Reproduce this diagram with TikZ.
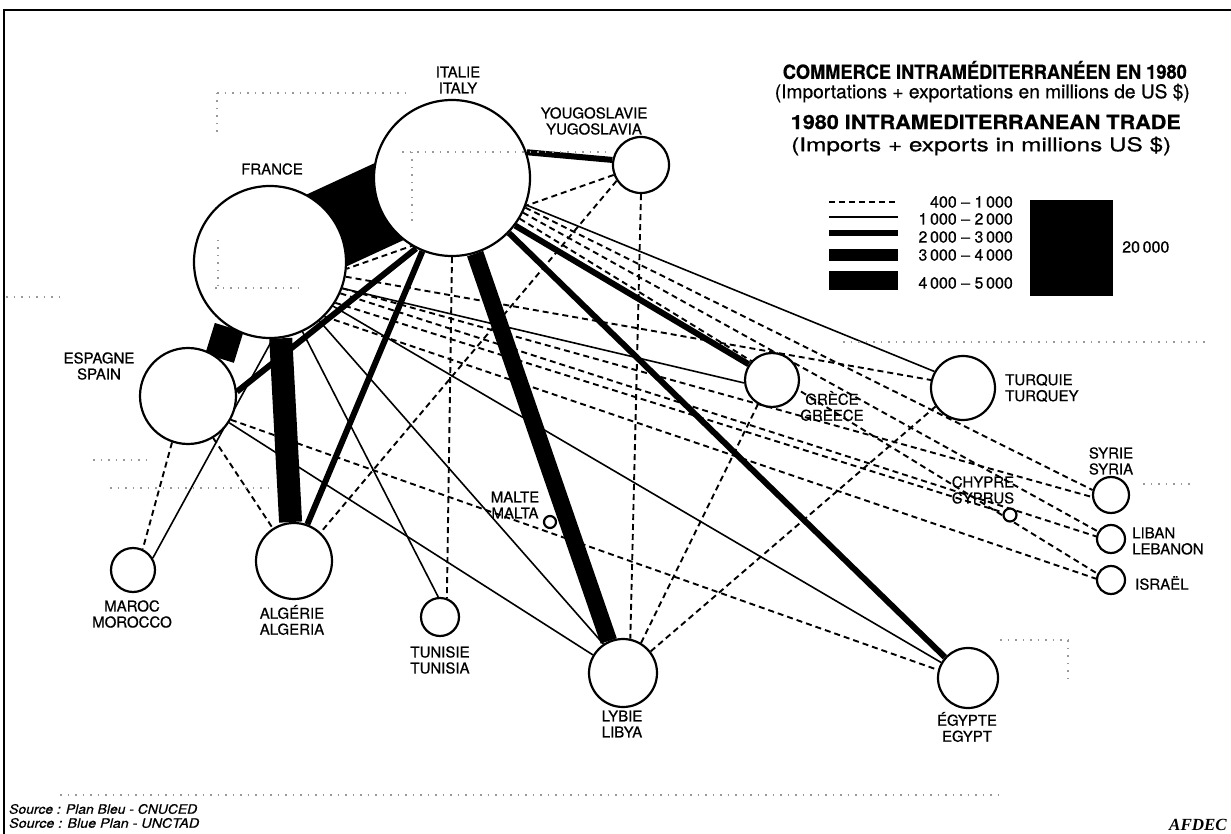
\documentclass[tikz,border=0pt]{standalone}
\usepackage{fontspec}
\setmainfont{TeX Gyre Heros}
\newfontfamily\lblfont[FakeBold=0.6]{TeX Gyre Heros}
\newfontfamily\afdecfont{Liberation Serif}
\pgfdeclarelayer{bg}
\pgfsetlayers{bg,main}
\begin{document}
\begin{tikzpicture}[x=1pt,y=-1pt,
  ctry/.style={circle,draw=black,line width=2.2pt,fill=white,inner sep=0pt,minimum size=#1},
  lbl/.style={font=\lblfont\fontsize{15}{16}\selectfont,align=center,inner sep=0pt},
  lbll/.style={font=\lblfont\fontsize{15}{16}\selectfont,align=left,inner sep=0pt,anchor=west},
  tdash/.style={line width=1.9pt,dash pattern=on 6pt off 4pt},
  tthin/.style={line width=1.6pt},
  tthick/.style={line width=6pt},
  tvthick/.style={line width=12pt},
  tband/.style={line width=#1},
  leg/.style={font=\lblfont\fontsize{16}{17}\selectfont,inner sep=0pt,anchor=east},
  ttl/.style={font=\lblfont\fontsize{19.5}{21}\selectfont\bfseries,inner sep=0pt},
  sub/.style={font=\lblfont\fontsize{19}{21}\selectfont,inner sep=0pt},
  src/.style={font=\lblfont\fontsize{13}{14}\selectfont\itshape,inner sep=0pt,anchor=west},
  noise/.style={black!40,line width=1.2pt,dash pattern=on 1.5pt off 6pt},
]
\useasboundingbox (0,0) rectangle (1231,834);
% frame
\draw[line width=2.5pt] (4,834) -- (4,10) -- (1231,10);

% countries
\node[ctry=152pt] (FR) at (270,262) {};
\node[ctry=156pt] (IT) at (452,178) {};
\node[ctry=56pt]  (YU) at (641,165) {};
\node[ctry=96pt]  (ES) at (188,396) {};
\node[ctry=44pt]  (MA) at (133,570) {};
\node[ctry=76pt]  (DZ) at (294,561) {};
\node[ctry=38pt]  (TN) at (440,617) {};
\node[ctry=12pt]  (MT) at (550,522) {};
\node[ctry=68pt]  (LY) at (623,673) {};
\node[ctry=60pt]  (EG) at (968,678) {};
\node[ctry=54pt]  (GR) at (772,380) {};
\node[ctry=64pt]  (TR) at (963,388) {};
\node[ctry=13pt]  (CY) at (1010,515) {};
\node[ctry=36pt]  (SY) at (1111,495) {};
\node[ctry=28pt]  (LB) at (1111,539) {};
\node[ctry=28pt]  (IL) at (1111,580) {};

% labels
\node[lbl] (lIT) at (458,80) {ITALIE\\ITALY};
\node[lbl] (lYU) at (594,121) {YOUGOSLAVIE\\YUGOSLAVIA};
\node[lbl] (lFR) at (272,169) {FRANCE};
\node[lbl] (lES) at (99,366) {ESPAGNE\\SPAIN};
\node[lbl] (lMA) at (132,614) {MAROC\\MOROCCO};
\node[lbl] (lDZ) at (292,620) {ALGÉRIE\\ALGERIA};
\node[lbl] (lTN) at (440,660) {TUNISIE\\TUNISIA};
\node[lbl] (lMT) at (515,505) {MALTE\\MALTA};
\node[lbl] (lLY) at (622,724) {LYBIE\\LIBYA};
\node[lbl] (lEG) at (967,727) {ÉGYPTE\\EGYPT};
\node[lbl] (lGR) at (832,406) {GRÈCE\\GREECE};
\node[lbll] (lTR) at (1005,388) {TURQUIE\\TURQUEY};
\node[lbl] (lCY) at (983,490) {CHYPRE\\CYPRUS};
\node[lbl] (lSY) at (1111,461) {SYRIE\\SYRIA};
\node[lbll] (lLB) at (1132,541) {LIBAN\\LEBANON};
\node[lbll] (lIL) at (1135,583) {ISRAËL};

% connectors
\begin{pgfonlayer}{bg}
\draw[tband=82pt] ([shift={(-2,-4.5)}]FR.center) -- ([shift={(-2,-4.5)}]IT.center);
\draw[tband=30pt] (FR.238) -- (ES.50);
\draw[tband=23pt] (FR.-82) -- (DZ.95);
\draw[tband=17pt] (IT.-73) -- (LY.114);
% 2000-3000
\draw[tthick] (IT.19) -- (YU.170);
\draw[tthick] (IT.243) -- (ES.5);
\draw[tthick] (IT.248) -- (DZ.70);
\draw[tthick] (IT.-37) -- (GR.146);
\draw[tthick] (IT.-44) -- (EG.138);
% 1000-2000
\draw[tthin] (FR.-88) -- (MA.31);
\draw[tthin] (FR.-65) -- (TN.95);
\draw[tthin] (FR.-50) -- (LY.124);
\draw[tthin] (FR.-35) -- (EG.150);
\draw[tthin] (FR.-20) -- (GR.186);
\draw[tthin] (IT.-20) -- (TR.150);
\draw[tthin] (ES.-33) -- (LY.149);
% 400-1000
\draw[tdash] (ES.251) -- (MA.65);
\draw[tdash] (ES.-59) -- (DZ.123);
\draw[tdash] (ES.-29) -- (EG.165);
\draw[tdash] (IT.-90) -- (TN.70);
\draw[tdash] (YU.-90) -- (LY.78);
\draw[tdash] (YU.213) -- (DZ.47);
\draw[tdash] (YU.200) -- (FR.-5);
\draw[tdash] (LY.59) -- (GR.240);
\draw[tdash] (LY.38) -- (TR.214);
\draw[tdash] (FR.-11) -- (TR.166);
\draw[tdash] (IT.-22) -- (SY.165);
\draw[tdash] (FR.-20) -- (SY.186);
\draw[tdash] (FR.-24) -- (LB.170);
\draw[tdash] (IT.-26) -- (LB.150);
\draw[tdash] (IT.-31) -- (IL.155);
\draw[tdash] (FR.-45) -- (IL.175);
\draw[tdash] (FR.-32) -- (CY.160);
\end{pgfonlayer}

% faint background dots of the scan
\draw[noise] (217,93) -- (407,93);
\draw[noise] (217,93) -- (217,135);
\draw[noise] (402,152) -- (607,152);
\draw[noise] (412,152) -- (412,225);
\draw[noise] (215,288) -- (300,288);
\draw[noise] (218,240) -- (218,288);
\draw[noise] (6,297) -- (60,297);
\draw[noise] (843,342) -- (1210,342);
\draw[noise] (93,460) -- (150,460);
\draw[noise] (110,488) -- (275,488);
\draw[noise] (1143,484) -- (1190,484);
\draw[noise] (1000,640) -- (1070,640);
\draw[noise] (1068,640) -- (1068,682);
\draw[noise] (60,795) -- (1000,795);

% titles
\node[ttl,anchor=east] (t1) at (1187,70) {\resizebox{404pt}{\height}{COMMERCE INTRAMÉDITERRANÉEN EN 1980}};
\node[sub,anchor=east] (t2) at (1190,93) {\resizebox{415pt}{\height}{(Importations + exportations en millions de US \$)}};
\node[ttl,anchor=east] (t3) at (1181,122) {\resizebox{390pt}{\height}{1980 INTRAMEDITERRANEAN TRADE}};
\node[sub,anchor=west] (t4) at (791,146) {\resizebox{380pt}{\height}{(Imports + exports in millions US \$)}};

% legend
\draw[tdash] (829,202) -- (898,202);
\draw[tthin] (829,217) -- (898,217);
\draw[tthick] (829,233) -- (898,233);
\draw[tvthick] (829,255) -- (898,255);
\draw[line width=19pt] (829,281) -- (898,281);
\node[leg] (g1) at (1013,202) {400 – 1\,000};
\node[leg] (g2) at (1013,219) {1\,000 – 2\,000};
\node[leg] (g3) at (1013,237) {2\,000 – 3\,000};
\node[leg] (g4) at (1013,255) {3\,000 – 4\,000};
\node[leg] (g5) at (1013,283) {4\,000 – 5\,000};
\fill[black] (1030,200) rectangle (1113,296);
\node[leg,anchor=west] (g6) at (1122,247) {20\,000};

% sources
\node[src] (s1) at (9,809) {\resizebox{188pt}{\height}{Source : Plan Bleu - CNUCED}};
\node[src] (s2) at (9,823) {\resizebox{190pt}{\height}{Source : Blue Plan - UNCTAD}};
\node[font=\afdecfont\fontsize{17}{18}\selectfont\bfseries\itshape,inner sep=0pt,anchor=east] (af) at (1227,825) {AFDEC};
\end{tikzpicture}
\end{document}
